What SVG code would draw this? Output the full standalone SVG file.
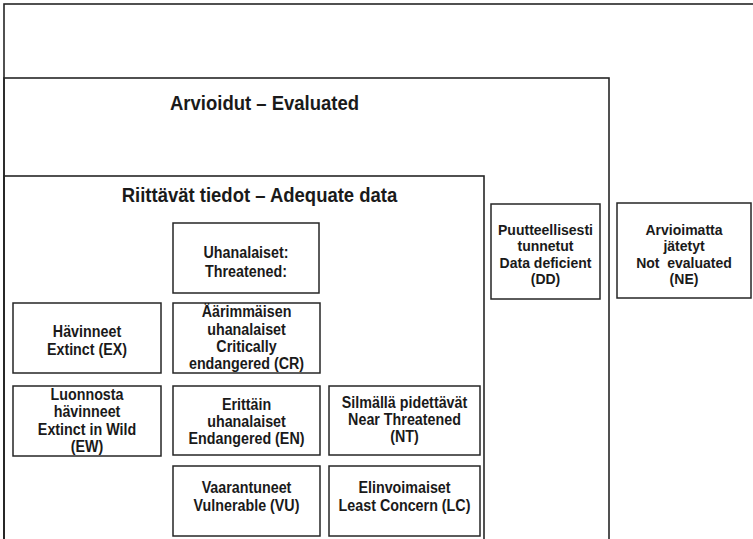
<svg xmlns="http://www.w3.org/2000/svg" width="753" height="539" viewBox="0 0 753 539">
<style>
  .frame { fill: none; stroke: #262626; stroke-width: 1.6; }
  .box { fill: #ffffff; stroke: #262626; stroke-width: 1.5; }
  .t { font-family: "Liberation Sans", Arial, sans-serif; font-weight: bold; font-size: 14.3px; fill: #1a1a1a; text-anchor: middle; }
  .s { font-family: "Liberation Sans", Arial, sans-serif; font-weight: bold; font-size: 14px; fill: #1a1a1a; text-anchor: middle; }
  .title { font-family: "Liberation Sans", Arial, sans-serif; font-weight: bold; font-size: 18.5px; fill: #1a1a1a; text-anchor: middle; }
</style>
<rect x="0" y="0" width="753" height="539" fill="#ffffff"/>

<g id="all-frame">
  <rect class="frame" x="4" y="4" width="760" height="560"/>
</g>

<g id="evaluated">
  <rect class="frame" x="4" y="78" width="605" height="480"/>
  <text class="title" transform="translate(264.5,110) scale(1,1.07)">Arvioidut – Evaluated</text>
</g>

<g id="adequate-data">
  <rect class="frame" x="4" y="176" width="480" height="380"/>
  <text class="title" transform="translate(259.5,202) scale(1,1.07)">Riittävät tiedot – Adequate data</text>
</g>

<g id="threatened">
  <rect class="box" x="173" y="223" width="146" height="70"/>
  <text class="t" transform="translate(246,258) scale(1,1.12)">Uhanalaiset:</text>
  <text class="t" transform="translate(246,277) scale(1,1.12)">Threatened:</text>
</g>

<g id="ex">
  <rect class="box" x="13" y="303" width="148" height="70"/>
  <text class="t" transform="translate(87,337) scale(1,1.12)">Hävinneet</text>
  <text class="t" transform="translate(87,355) scale(1,1.12)">Extinct (EX)</text>
</g>

<g id="cr">
  <rect class="box" x="173" y="303" width="147" height="70"/>
  <text class="t" transform="translate(246.5,317) scale(1,1.12)">Äärimmäisen</text>
  <text class="t" transform="translate(246.5,335) scale(1,1.12)">uhanalaiset</text>
  <text class="t" transform="translate(246.5,352) scale(1,1.12)">Critically</text>
  <text class="t" transform="translate(246.5,368.5) scale(1,1.12)">endangered (CR)</text>
</g>

<g id="ew">
  <rect class="box" x="13" y="386" width="148" height="70"/>
  <text class="t" transform="translate(87,400) scale(1,1.12)">Luonnosta</text>
  <text class="t" transform="translate(87,417) scale(1,1.12)">hävinneet</text>
  <text class="t" transform="translate(87,435) scale(1,1.12)">Extinct in Wild</text>
  <text class="t" transform="translate(87,452) scale(1,1.12)">(EW)</text>
</g>

<g id="en">
  <rect class="box" x="173" y="386" width="147" height="69"/>
  <text class="t" transform="translate(246.5,410) scale(1,1.12)">Erittäin</text>
  <text class="t" transform="translate(246.5,427) scale(1,1.12)">uhanalaiset</text>
  <text class="t" transform="translate(246.5,444) scale(1,1.12)">Endangered (EN)</text>
</g>

<g id="nt">
  <rect class="box" x="329" y="386" width="151" height="69"/>
  <text class="t" transform="translate(404.5,408) scale(1,1.12)">Silmällä pidettävät</text>
  <text class="t" transform="translate(404.5,425) scale(1,1.12)">Near Threatened</text>
  <text class="t" transform="translate(404.5,442) scale(1,1.12)">(NT)</text>
</g>

<g id="vu">
  <rect class="box" x="173" y="466" width="147" height="70"/>
  <text class="t" transform="translate(246.5,493) scale(1,1.12)">Vaarantuneet</text>
  <text class="t" transform="translate(246.5,511) scale(1,1.12)">Vulnerable (VU)</text>
</g>

<g id="lc">
  <rect class="box" x="329" y="466" width="151" height="70"/>
  <text class="t" transform="translate(404.5,493) scale(1,1.12)">Elinvoimaiset</text>
  <text class="t" transform="translate(404.5,511) scale(1,1.12)">Least Concern (LC)</text>
</g>

<g id="dd">
  <rect class="box" x="491" y="204" width="109" height="95"/>
  <text class="s" x="545.5" y="234.5">Puutteellisesti</text>
  <text class="s" x="545.5" y="251">tunnetut</text>
  <text class="s" x="545.5" y="267.5">Data deficient</text>
  <text class="s" x="545.5" y="284">(DD)</text>
</g>

<g id="ne">
  <rect class="box" x="617" y="203" width="134" height="95"/>
  <text class="s" x="684" y="234.5">Arvioimatta</text>
  <text class="s" x="684" y="251">jätetyt</text>
  <text class="s" x="684" y="267.5" xml:space="preserve">Not  evaluated</text>
  <text class="s" x="684" y="284">(NE)</text>
</g>

<g id="connectors"></g>
</svg>
